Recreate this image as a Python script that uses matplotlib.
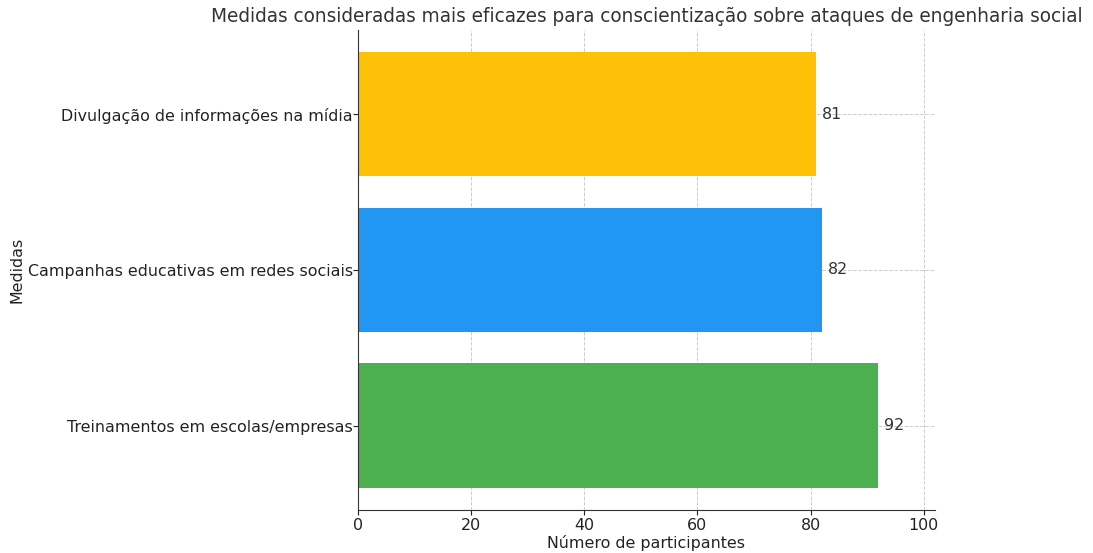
import matplotlib
matplotlib.use('Agg')
import matplotlib.pyplot as plt

medidas = ['Treinamentos em escolas/empresas',
           'Campanhas educativas em redes sociais',
           'Divulgação de informações na mídia']
participantes = [92, 82, 81]
cores = ['#4CAF50', '#2196F3', '#FFC107']

fig, ax = plt.subplots(figsize=(10.93, 5.53), dpi=100)
fig.subplots_adjust(left=0.3275, right=0.8554, top=0.9458, bottom=0.0778)

bars = ax.barh(medidas, participantes, color=cores, height=0.8, zorder=2)

for b, v in zip(bars, participantes):
    ax.text(v + 1, b.get_y() + b.get_height() / 2, str(v),
            va='center', ha='left', fontsize=11.4, color='#333333')

ax.set_xlim(0, max(participantes) + 10)
ax.set_title('Medidas consideradas mais eficazes para conscientização sobre ataques de engenharia social',
             fontsize=13.35, color='#333333')
ax.set_xlabel('Número de participantes', fontsize=11.4, color='#222222', labelpad=1)
ax.set_ylabel('Medidas', fontsize=11.4, color='#222222', labelpad=2)
ax.tick_params(labelsize=11.4, colors='#222222')
ax.tick_params(axis='x', pad=2.5)
ax.tick_params(axis='y', pad=0.3)
ax.grid(True, linestyle='--', color='#cccccc', linewidth=0.7, zorder=0)
ax.spines['top'].set_visible(False)
ax.spines['right'].set_visible(False)
for s in ('left', 'bottom'):
    ax.spines[s].set_color('#333333')

fig.savefig('out.png', dpi=100)
